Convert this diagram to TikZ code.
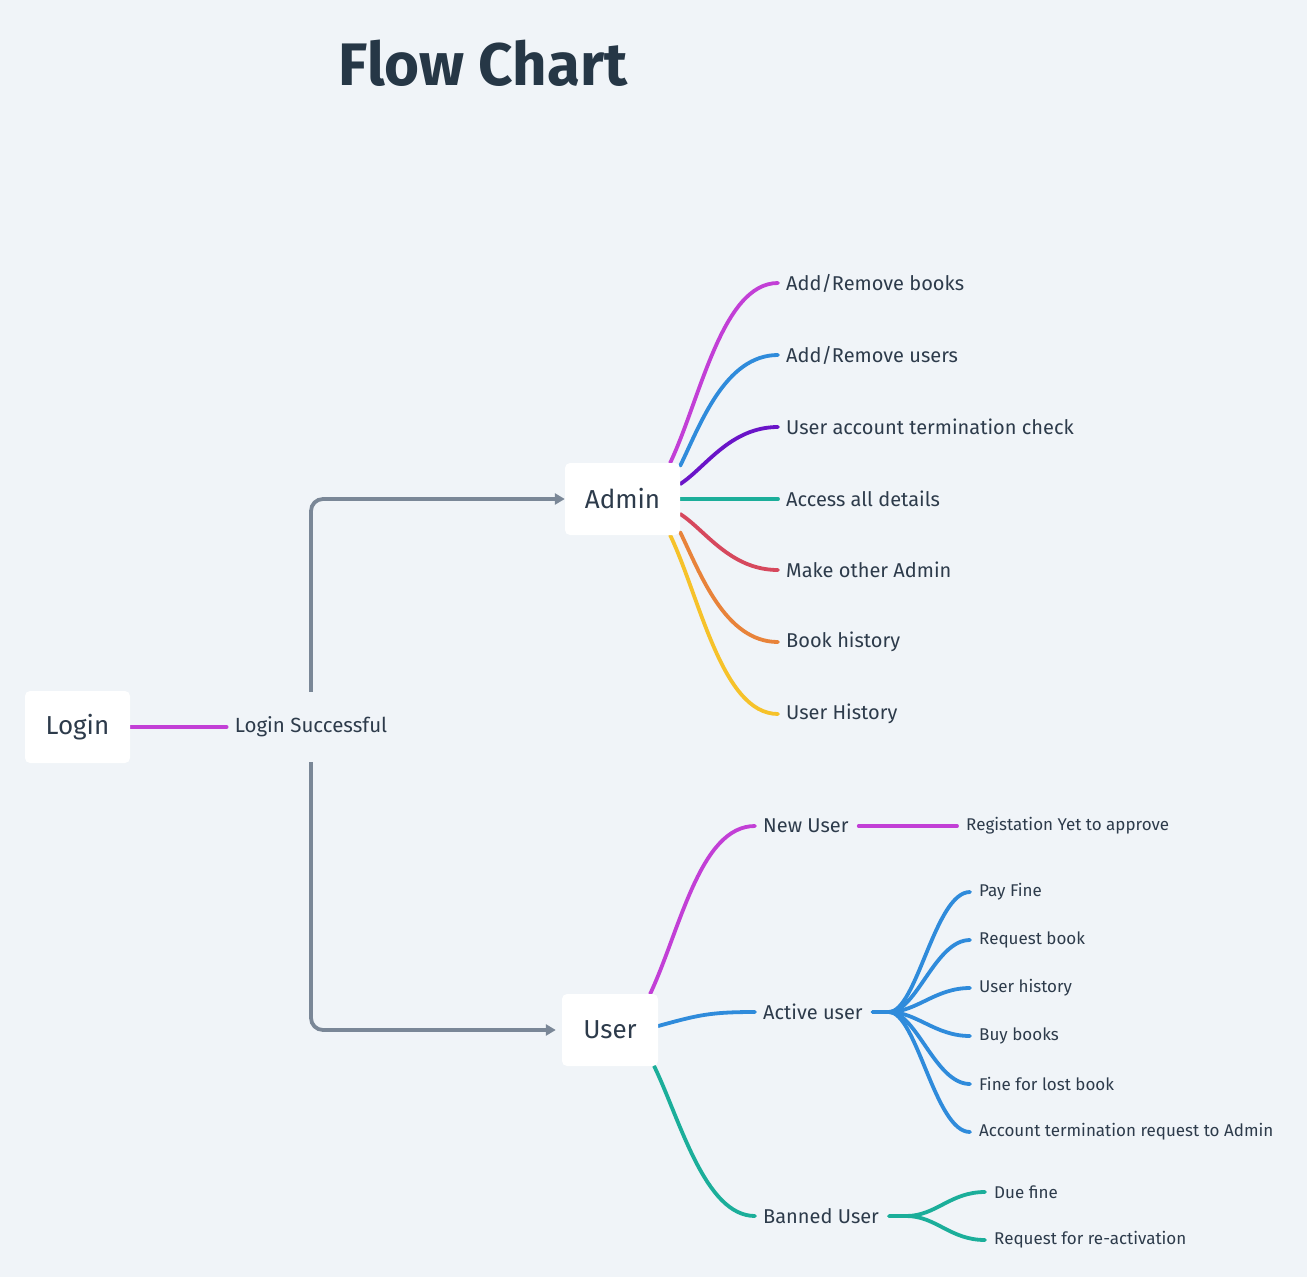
\documentclass[tikz,border=0pt]{standalone}
\usepackage{fontspec}
\setmainfont{Fira Sans}
\usetikzlibrary{arrows.meta,calc}
\pgfdeclarelayer{back}
\pgfdeclarelayer{bg}
\pgfsetlayers{back,bg,main}
\definecolor{bgc}{HTML}{F0F4F8}
\definecolor{txt}{HTML}{2D3B4B}
\definecolor{ttl}{HTML}{263746}
\definecolor{grc}{HTML}{7A8797}
\definecolor{pk}{HTML}{C23FD6}
\definecolor{bl}{HTML}{2F8BDB}
\definecolor{vi}{HTML}{6A14C8}
\definecolor{te}{HTML}{1BAE9A}
\definecolor{rd}{HTML}{D6485D}
\definecolor{orc}{HTML}{E8833A}
\definecolor{ye}{HTML}{F6C22A}
\tikzset{
  box/.style={fill=white, rounded corners=5pt, inner sep=0pt, text=txt, font=\fontsize{26}{30}\selectfont},
  leaf/.style={anchor=west, inner sep=0pt, text=txt, font=\fontsize{20}{24}\selectfont},
  sleaf/.style={anchor=west, inner sep=0pt, text=txt, font=\fontsize{17}{20}\selectfont},
  cv/.style={line width=3.8pt, line cap=round},
  gline/.style={line width=3.8pt, grc, rounded corners=12pt, -{Triangle[length=10pt,width=11pt]}},
}
\begin{document}
\begin{tikzpicture}[x=1pt,y=-1pt]
\begin{pgfonlayer}{back}
\fill[bgc] (0,0) rectangle (1307,1277);
\end{pgfonlayer}
\useasboundingbox (0,0) rectangle (1307,1277);

\node[anchor=base, text=ttl, font=\fontsize{60}{66}\selectfont\bfseries] (title) at (483,85) {Flow Chart};

\node[box, minimum width=105, minimum height=72] (login) at (77.5,727) {Login};
\node[box, minimum width=115, minimum height=72] (admin) at (622.5,499) {Admin};
\node[box, minimum width=96, minimum height=72] (user) at (610,1030) {User};
\node[text=txt, font=\fontsize{20.5}{24}\selectfont, inner xsep=8pt, inner ysep=0pt, minimum height=70] (ls) at (311,727) {Login Successful};

\node[leaf] (a1) at (786,283) {Add/Remove books};
\node[leaf] (a2) at (786,355) {Add/Remove users};
\node[leaf] (a3) at (786,427) {User account termination check};
\node[leaf] (a4) at (786,499) {Access all details};
\node[leaf] (a5) at (786,570) {Make other Admin};
\node[leaf] (a6) at (786,642) {Book history};
\node[leaf] (a7) at (786,714) {User History};

\node[leaf] (nu) at (763,826) {New User};
\node[leaf] (au) at (763,1012) {Active user};
\node[leaf] (bu) at (763,1216) {Banned User};
\node[sleaf] (rg) at (966,826) {Registation Yet to approve};

\node[sleaf] (f1) at (979,892) {Pay Fine};
\node[sleaf] (f2) at (979,940) {Request book};
\node[sleaf] (f3) at (979,988) {User history};
\node[sleaf] (f4) at (979,1036) {Buy books};
\node[sleaf] (f5) at (979,1084) {Fine for lost book};
\node[sleaf] (f6) at (979,1132) {Account termination request to Admin};

\node[sleaf] (b1) at (994,1192) {Due fine};
\node[sleaf] (b2) at (994,1240) {Request for re-activation};

\begin{pgfonlayer}{bg}
\draw[cv,pk] (login.east) -- (ls.west);
\draw[gline] (ls.north) |- (admin.west);
\draw[gline] (ls.south) |- ($(user.west)+(-6,0)$);

\draw[cv,pk] ($(admin.north east)+(-10,0)$) .. controls +(30,-63) and +(-56,0) .. ($(a1.west)+(-8,0)$);
\draw[cv,bl] ($(admin.north east)+(0,3)$) .. controls +(20,-41) and +(-53,0) .. ($(a2.west)+(-8,0)$);
\draw[cv,vi] ($(admin.east)+(0,-15)$) .. controls +(25,-16) and +(-48,0) .. ($(a3.west)+(-8,0)$);
\draw[cv,te] (admin.east) -- ($(a4.west)+(-8,0)$);
\draw[cv,rd] ($(admin.east)+(0,15)$) .. controls +(25,16) and +(-48,0) .. ($(a5.west)+(-8,0)$);
\draw[cv,orc] ($(admin.south east)+(0,-3)$) .. controls +(20,41) and +(-53,0) .. ($(a6.west)+(-8,0)$);
\draw[cv,ye] ($(admin.south east)+(-10,0)$) .. controls +(30,63) and +(-56,0) .. ($(a7.west)+(-8,0)$);

\draw[cv,pk] ($(user.north east)+(-8,0)$) .. controls +(30,-64) and +(-55,0) .. ($(nu.west)+(-8,0)$);
\draw[cv,bl] ($(user.east)+(0,-4)$) .. controls +(40,-11) and +(-45,0) .. ($(au.west)+(-8,0)$);
\draw[cv,te] ($(user.south east)+(-4,0)$) .. controls +(26,54) and +(-50,0) .. ($(bu.west)+(-8,0)$);

\draw[cv,pk] ($(nu.east)+(10,0)$) -- ($(rg.west)+(-9,0)$);

\foreach \f in {f1,f2,f3,f4,f5,f6}{
  \draw[cv,bl] ($(au.east)+(10,0)$) -- ++(16,0) .. controls +(28,0) and +(-35,0) .. ($(\f.west)+(-9,0)$);
}
\foreach \f in {b1,b2}{
  \draw[cv,te] ($(bu.east)+(10,0)$) -- ++(17,0) .. controls +(30,0) and +(-35,0) .. ($(\f.west)+(-9,0)$);
}
\end{pgfonlayer}
\end{tikzpicture}
\end{document}
